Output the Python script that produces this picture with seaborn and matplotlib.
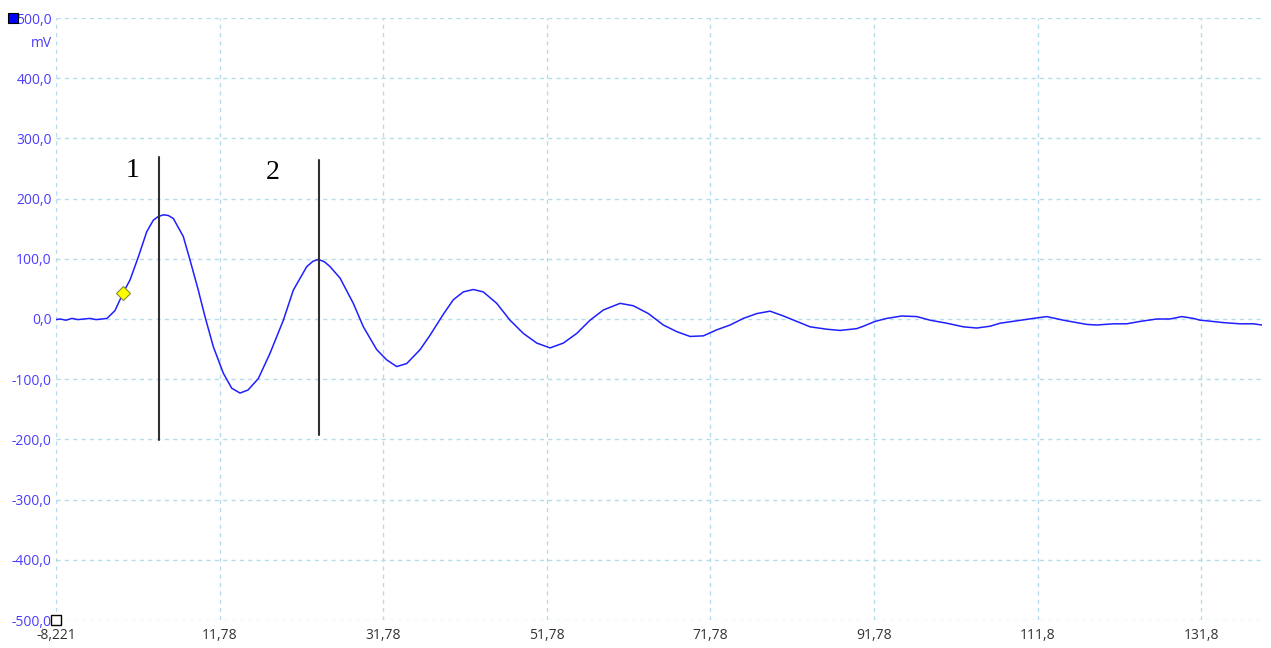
import matplotlib
matplotlib.use("Agg")
import matplotlib.pyplot as plt
import seaborn as sns
import pandas as pd

# Recorded trace: time (ms) and amplitude (mV)
time_ms = [
    -8.22, -7.73, -7.00, -6.27, -5.53, -4.80, -4.06, -3.33, -2.60, -1.99,
    -1.01, 0.01, 0.83, 1.84, 2.87, 3.67, 4.25, 4.90, 5.50, 6.12, 7.34,
    8.16, 9.17, 9.99, 11.01, 12.23, 13.26, 14.27, 15.25, 16.51, 17.94,
    19.57, 20.79, 22.43, 23.20, 23.85, 24.60, 25.28, 26.50, 28.12, 29.35, 30.99, 32.21,
    33.43, 34.65, 36.28, 37.50, 39.13, 40.35, 41.57, 42.79, 44.01, 45.65,
    47.28, 48.91, 50.55, 52.17, 53.80, 55.43, 57.06, 58.69, 60.73, 62.35,
    64.19, 66.02, 67.66, 69.29, 70.91, 72.55, 74.18, 75.80, 77.44, 79.07,
    80.70, 82.33, 83.96, 86.00, 87.62, 89.66, 90.47, 91.90, 93.33, 95.17,
    97.00, 98.63, 100.67, 102.70, 104.33, 105.96, 107.18, 109.22, 111.25, 112.89,
    114.92, 115.74, 117.78, 119.00, 121.03, 122.67, 124.30, 126.34, 127.96, 129.39,
    130.81, 131.63, 132.45, 134.48, 136.52, 138.15, 139.18,
]
signal_mv = [
    -1, 0, -2, 1, -1, 0, 1, -1, 0, 1,
    14, 44, 65, 103, 145, 164, 170, 173, 172, 167, 137,
    98, 48, 4, -46, -90, -115, -123, -118, -99, -57,
    -2, 48, 87, 96, 99, 95, 87, 68, 26, -13, -51, -68,
    -79, -74, -51, -27, 8, 32, 45, 49, 45, 26,
    -2, -24, -40, -48, -40, -24, -2, 15, 26, 22,
    9, -10, -21, -29, -28, -18, -10, 1, 9, 13,
    5, -4, -13, -17, -19, -16, -12, -4, 1, 5,
    4, -2, -7, -13, -15, -12, -7, -3, 1, 4,
    -2, -4, -9, -10, -8, -8, -4, 0, 0, 4,
    1, -2, -3, -6, -8, -8, -10,
]

# Cursor markers: position (ms), span (mV) and label
cursor_t = [4.37, 23.93]
cursor_lo = [-201, -193]
cursor_hi = [269, 264]
cursor_labels = ["1", "2"]
label_t = [1.19, 18.31]
label_v = [247, 244]

# Trigger point
trigger_t = 0.0
trigger_v = 44

x_ticks = [-8.221, 11.779, 31.779, 51.779, 71.779, 91.779, 111.779, 131.779]
x_tick_labels = ["-8,221", "11,78", "31,78", "51,78", "71,78", "91,78", "111,8", "131,8"]
y_ticks = [-500, -400, -300, -200, -100, 0, 100, 200, 300, 400, 500]
y_tick_labels = ["-500,0", "-400,0", "-300,0", "-200,0", "-100,0", "0,0",
                 "100,0", "200,0", "300,0", "400,0", "500,0"]

sns.set_style("white")
plt.rcParams["font.family"] = ["Open Sans", "DejaVu Sans"]

fig = plt.figure(figsize=(12.71, 6.48), dpi=100)
ax = fig.add_axes([56 / 1271, 28 / 648, (1262 - 56) / 1271, (620 - 18) / 648])

df = pd.DataFrame({"t": time_ms, "v": signal_mv})
sns.lineplot(data=df, x="t", y="v", ax=ax, color="#1f1fff", linewidth=1.1,
             sort=False, estimator=None, zorder=3)

for t, lo, hi in zip(cursor_t, cursor_lo, cursor_hi):
    ax.plot([t, t], [lo, hi], color="#303030", linewidth=1.5, zorder=4)
for t, v, s in zip(label_t, label_v, cursor_labels):
    ax.text(t, v, s, fontsize=20, family=["Liberation Serif", "DejaVu Serif"],
            ha="center", va="center", color="black", zorder=5)

ax.plot([trigger_t], [trigger_v], marker="D", markersize=7, markerfacecolor="#ffff00",
        markeredgecolor="#8a8a30", markeredgewidth=0.8, linestyle="none", zorder=6)

ax.set_xlim(-8.221, 139.2)
ax.set_ylim(-500, 500)
ax.set_xticks(x_ticks)
ax.set_xticklabels(x_tick_labels)
ax.set_yticks(y_ticks)
ax.set_yticklabels(y_tick_labels)
ax.tick_params(axis="both", length=0, labelsize=10)
ax.tick_params(axis="y", colors="#4a3cff", pad=3)
ax.tick_params(axis="x", colors="#333333", pad=6)
ax.set_xlabel("")
ax.set_ylabel("")

ax.grid(True, color="#b4dcea", linestyle=(0, (3, 3)), linewidth=1.0)
for sp in ax.spines.values():
    sp.set_visible(False)

# Unit label and channel/origin markers
ax.text(-0.003, 0.958, "mV", transform=ax.transAxes, ha="right", va="center",
        fontsize=10, color="#4a3cff")
ax.plot([-0.0357], [1.0], transform=ax.transAxes, marker="s", markersize=7,
        markerfacecolor="#0000ff", markeredgecolor="#000000", markeredgewidth=0.8,
        clip_on=False, zorder=7)
ax.plot([0.0], [0.0], transform=ax.transAxes, marker="s", markersize=7,
        markerfacecolor="#ffffff", markeredgecolor="#000000", markeredgewidth=1.0,
        clip_on=False, zorder=7)

fig.savefig("out.png", dpi=100, facecolor="white")
